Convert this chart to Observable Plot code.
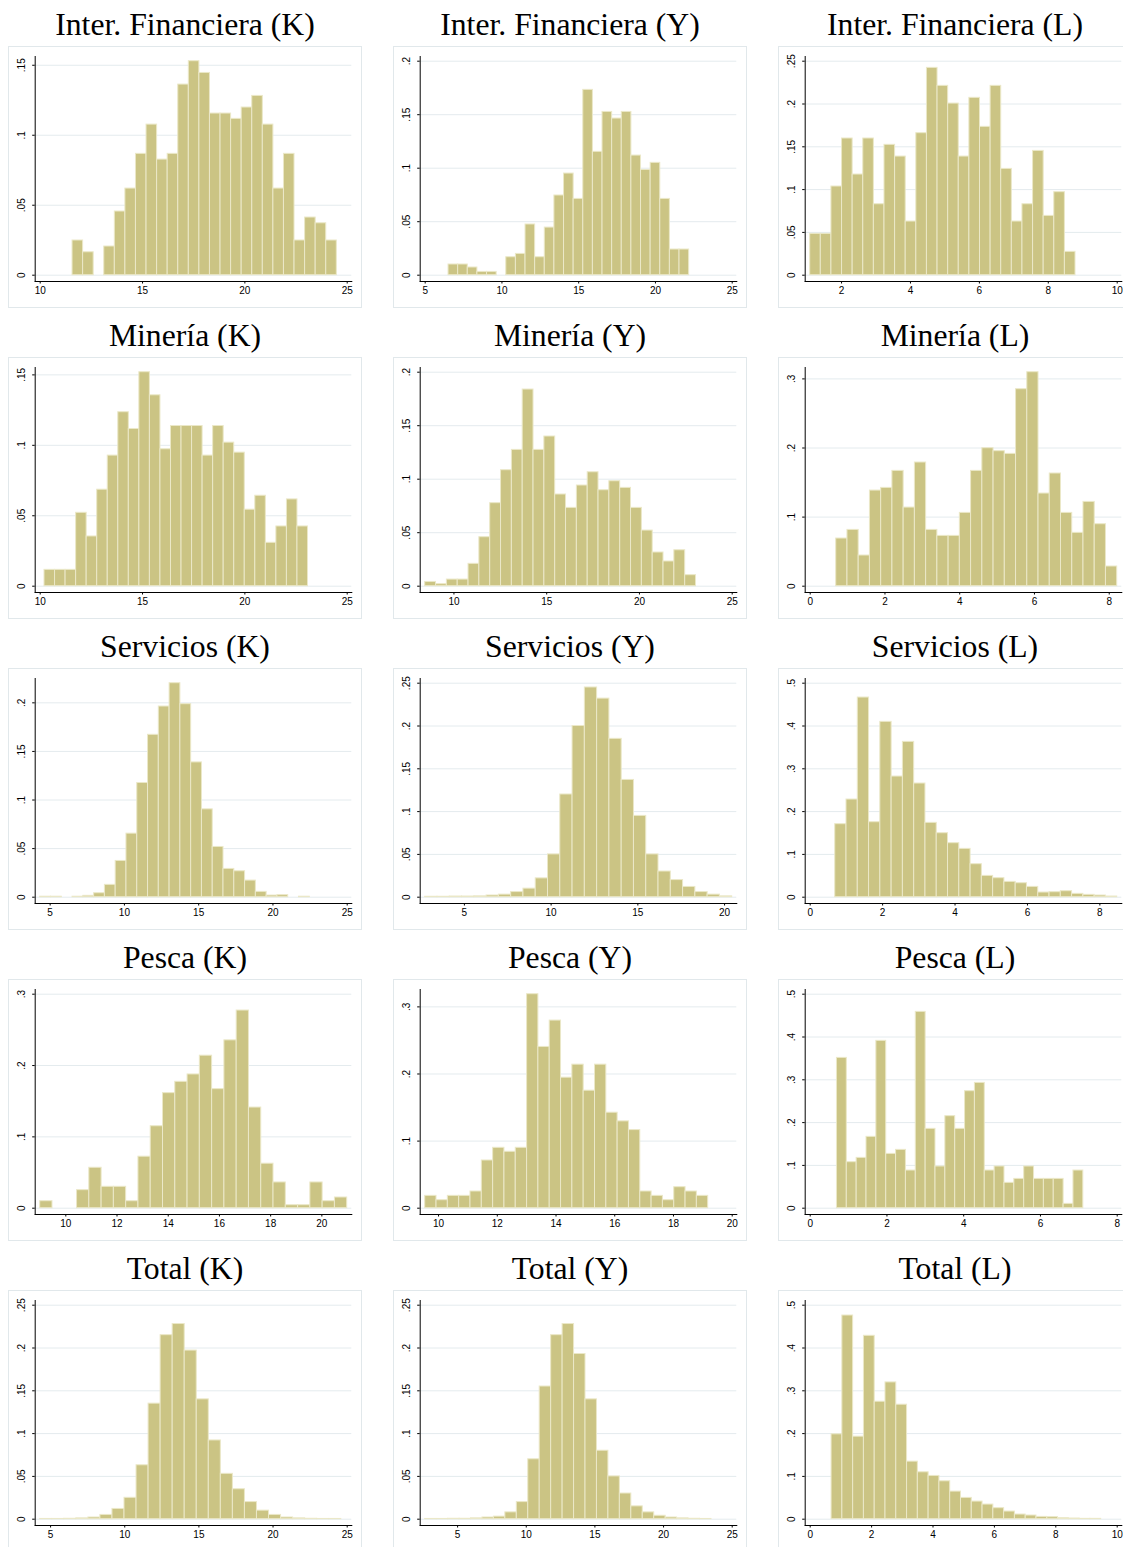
<!DOCTYPE html>
<html>
<head>
<meta charset="utf-8">
<script src="https://cdn.jsdelivr.net/npm/d3@7"></script>
<script src="https://cdn.jsdelivr.net/npm/@observablehq/plot@0.6"></script>
<style>
  html, body { margin: 0; padding: 0; background: #ffffff; }
  #page { position: relative; width: 1123px; height: 1547px; overflow: hidden; background: #ffffff; }
  .ttl { position: absolute; width: 354px; text-align: center; font-family: "Liberation Serif", "Times New Roman", serif; font-size: 31.7px; line-height: 31px; color: #000; white-space: nowrap; }
  .pnl { position: absolute; width: 354px; height: 262px; }
  .pnl svg { display: block; outline: 1px solid #e1e8eb; outline-offset: -1px; }
</style>
</head>
<body>
<div id="page"></div>
<script>
// ---- Data (densities) ----
const titles = [
  "Inter. Financiera (K)", "Inter. Financiera (Y)", "Inter. Financiera (L)",
  "Minería (K)", "Minería (Y)", "Minería (L)",
  "Servicios (K)", "Servicios (Y)", "Servicios (L)",
  "Pesca (K)", "Pesca (Y)", "Pesca (L)",
  "Total (K)", "Total (Y)", "Total (L)"
];

// first bin edge and bin width of each histogram
const binStart = [11.58, 6.52, 1.09, 10.21, 8.45, 0.696, 4.33, 2.74, 0.691, 9.0, 9.545, 0.697, 4.30, 2.64, 0.696];
const binWidth = [0.5165, 0.627, 0.308, 0.515, 0.584, 0.3007, 0.726, 0.708, 0.3115, 0.4796, 0.3855, 0.2568, 0.812, 0.834, 0.3513];

const ifK = [0.0248, 0.0164, 0, 0.0205, 0.0455, 0.0619, 0.0867, 0.1076, 0.0826, 0.0867, 0.1362, 0.1529, 0.1445, 0.1155, 0.1155, 0.1117, 0.1198, 0.1281, 0.1076, 0.0619, 0.0867, 0.0248, 0.0412, 0.0371, 0.0248];
const ifY = [0.0100, 0.0100, 0.0072, 0.0031, 0.0031, 0, 0.0168, 0.0199, 0.0474, 0.0168, 0.0445, 0.0745, 0.0950, 0.0713, 0.1732, 0.1153, 0.1526, 0.1464, 0.1526, 0.1118, 0.0984, 0.1050, 0.0713, 0.0240, 0.0240];
const ifL = [0.0483, 0.0483, 0.1036, 0.1597, 0.1176, 0.1597, 0.0829, 0.1523, 0.1386, 0.0627, 0.1659, 0.2422, 0.2212, 0.2005, 0.1386, 0.2072, 0.1733, 0.2212, 0.1242, 0.0627, 0.0829, 0.1452, 0.0693, 0.0970, 0.0273];
const minK = [0.0116, 0.0116, 0.0116, 0.0521, 0.0353, 0.0685, 0.0927, 0.1235, 0.1116, 0.1519, 0.1355, 0.0972, 0.1137, 0.1137, 0.1137, 0.0927, 0.1137, 0.1019, 0.0948, 0.0543, 0.0642, 0.0308, 0.0424, 0.0616, 0.0424];
const minY = [0.0040, 0.0019, 0.0062, 0.0062, 0.0209, 0.0458, 0.0776, 0.1084, 0.1274, 0.1838, 0.1274, 0.1399, 0.0857, 0.0732, 0.0941, 0.1065, 0.0897, 0.0981, 0.0919, 0.0732, 0.0520, 0.0315, 0.0231, 0.0336, 0.0103];
const minL = [0.0690, 0.0815, 0.0444, 0.1384, 0.1423, 0.1669, 0.1138, 0.1790, 0.0815, 0.0728, 0.0728, 0.1061, 0.1669, 0.1997, 0.1954, 0.1915, 0.2851, 0.3097, 0.1341, 0.1631, 0.1061, 0.0772, 0.1220, 0.0897, 0.0285];
const serK = [0.0005, 0.0005, 0, 0.0005, 0.0014, 0.0041, 0.0127, 0.0373, 0.0654, 0.1175, 0.1671, 0.1962, 0.2202, 0.1986, 0.1387, 0.0904, 0.0517, 0.0291, 0.0267, 0.0171, 0.0055, 0.0017, 0.0021, 0, 0.0005];
const serY = [0.0005, 0.0005, 0.0008, 0.0008, 0.0010, 0.0020, 0.0030, 0.0060, 0.0100, 0.0220, 0.0500, 0.1200, 0.2000, 0.2450, 0.2320, 0.1850, 0.1370, 0.0950, 0.0500, 0.0300, 0.0200, 0.0120, 0.0060, 0.0030, 0.0010];
const serL = [0.1706, 0.2282, 0.4665, 0.1752, 0.4097, 0.2819, 0.3629, 0.2656, 0.1737, 0.1495, 0.1262, 0.1129, 0.0771, 0.0498, 0.0444, 0.0358, 0.0327, 0.0241, 0.0109, 0.0117, 0.0140, 0.0078, 0.0055, 0.0039, 0.0016];
const pesK = [0.0098, 0, 0, 0.0253, 0.0567, 0.0300, 0.0300, 0.0098, 0.0722, 0.1149, 0.1613, 0.1772, 0.1875, 0.2138, 0.1669, 0.2353, 0.2771, 0.1411, 0.0624, 0.0361, 0.0042, 0.0042, 0.0361, 0.0098, 0.0150];
const pesY = [0.0184, 0.0119, 0.0184, 0.0184, 0.0249, 0.0711, 0.0900, 0.0841, 0.0900, 0.3189, 0.2403, 0.2796, 0.1945, 0.2139, 0.1751, 0.2139, 0.1423, 0.1294, 0.1164, 0.0249, 0.0184, 0.0119, 0.0313, 0.0249, 0.0184];
const pesL = [0.3512, 0.1075, 0.1176, 0.1667, 0.3910, 0.1269, 0.1363, 0.0880, 0.4587, 0.1854, 0.0974, 0.2150, 0.1854, 0.2734, 0.2928, 0.0880, 0.0974, 0.0592, 0.0685, 0.0974, 0.0685, 0.0685, 0.0685, 0.0101, 0.0880];
const totK = [0.0003, 0.0003, 0.0005, 0.0010, 0.0020, 0.0050, 0.0120, 0.0250, 0.0630, 0.1350, 0.2150, 0.2280, 0.1970, 0.1400, 0.0920, 0.0530, 0.0350, 0.0200, 0.0100, 0.0050, 0.0020, 0.0010, 0.0005, 0.0003, 0.0003];
const totY = [0.0003, 0.0003, 0.0005, 0.0005, 0.0010, 0.0020, 0.0030, 0.0080, 0.0200, 0.0700, 0.1550, 0.2150, 0.2280, 0.1930, 0.1400, 0.0800, 0.0500, 0.0300, 0.0150, 0.0080, 0.0040, 0.0020, 0.0010, 0.0005, 0.0003];
const totL = [0.1983, 0.4759, 0.1928, 0.4285, 0.2745, 0.3196, 0.2675, 0.1345, 0.1096, 0.1011, 0.0886, 0.0645, 0.0498, 0.0412, 0.0342, 0.0257, 0.0179, 0.0109, 0.0086, 0.0054, 0.0047, 0.0023, 0.0016, 0.0008, 0.0008];

const densities = [ifK, ifY, ifL, minK, minY, minL, serK, serY, serL, pesK, pesY, pesL, totK, totY, totL];

const xTicksList = [
  [10, 15, 20, 25], [5, 10, 15, 20, 25], [2, 4, 6, 8, 10],
  [10, 15, 20, 25], [10, 15, 20, 25], [0, 2, 4, 6, 8],
  [5, 10, 15, 20, 25], [5, 10, 15, 20], [0, 2, 4, 6, 8],
  [10, 12, 14, 16, 18, 20], [10, 12, 14, 16, 18, 20], [0, 2, 4, 6, 8],
  [5, 10, 15, 20, 25], [5, 10, 15, 20, 25], [0, 2, 4, 6, 8, 10]
];
const yTicksList = [
  [0, 0.05, 0.1, 0.15], [0, 0.05, 0.1, 0.15, 0.2], [0, 0.05, 0.1, 0.15, 0.2, 0.25],
  [0, 0.05, 0.1, 0.15], [0, 0.05, 0.1, 0.15, 0.2], [0, 0.1, 0.2, 0.3],
  [0, 0.05, 0.1, 0.15, 0.2], [0, 0.05, 0.1, 0.15, 0.2, 0.25], [0, 0.1, 0.2, 0.3, 0.4, 0.5],
  [0, 0.1, 0.2, 0.3], [0, 0.1, 0.2, 0.3], [0, 0.1, 0.2, 0.3, 0.4, 0.5],
  [0, 0.05, 0.1, 0.15, 0.2, 0.25], [0, 0.05, 0.1, 0.15, 0.2, 0.25], [0, 0.1, 0.2, 0.3, 0.4, 0.5]
];

// ---- Drawing ----
const BAR_FILL = "#cbc484";
const BAR_EDGE = "#ebe8c8";
const GRID = "#e4ebee";
const yFmt = d => d === 0 ? "0" : d3.format(".2~f")(d).replace(/^0/, "");

const page = document.getElementById("page");

densities.forEach((vals, i) => {
  const col = i % 3, row = Math.floor(i / 3);
  const left = 8 + col * 385, top = 46 + row * 311;

  const rows = vals.map((v, k) => ({
    x1: binStart[i] + k * binWidth[i],
    x2: binStart[i] + (k + 1) * binWidth[i],
    y: v
  })).filter(r => r.y > 0);

  const xt = xTicksList[i], yt = yTicksList[i];
  const xMin = Math.min(binStart[i], xt[0]);
  const xMax = Math.max(binStart[i] + vals.length * binWidth[i], xt[xt.length - 1]);
  const yMax = Math.max(d3.max(vals), yt[yt.length - 1]);

  const svg = Plot.plot({
    width: 354,
    height: 262,
    marginLeft: 26.7,
    marginRight: 10.7,
    marginTop: 10,
    marginBottom: 27,
    style: { fontFamily: "'Liberation Sans', Arial, sans-serif", fontSize: "10px", background: "#ffffff", color: "#000" },
    x: { domain: [xMin, xMax], insetLeft: 5, insetRight: 4.6, label: null },
    y: { domain: [0, yMax], insetTop: 4.7, insetBottom: 6.3, label: null },
    marks: [
      Plot.gridY(yt, { stroke: GRID, strokeOpacity: 1, strokeWidth: 1 }),
      Plot.rectY(rows, { x1: "x1", x2: "x2", y: "y", fill: BAR_FILL, stroke: BAR_EDGE, strokeWidth: 1 }),
      Plot.frame({ anchor: "bottom", stroke: "#000", strokeWidth: 1 }),
      Plot.frame({ anchor: "left", stroke: "#000", strokeWidth: 1 }),
      Plot.axisX(xt, { tickSize: 2.5, tickPadding: 3, tickFormat: d => String(d), label: null, stroke: "#000" }),
      Plot.axisY(yt, { tickSize: 2.5, tickPadding: 7.5, tickRotate: -90, tickFormat: yFmt, label: null, stroke: "#000" })
    ]
  });

  const t = document.createElement("div");
  t.className = "ttl";
  t.style.left = left + "px";
  t.style.top = (top - 37) + "px";
  t.textContent = titles[i];
  page.appendChild(t);

  const p = document.createElement("div");
  p.className = "pnl";
  p.style.left = left + "px";
  p.style.top = top + "px";
  p.appendChild(svg);
  page.appendChild(p);
});
</script>
</body>
</html>
